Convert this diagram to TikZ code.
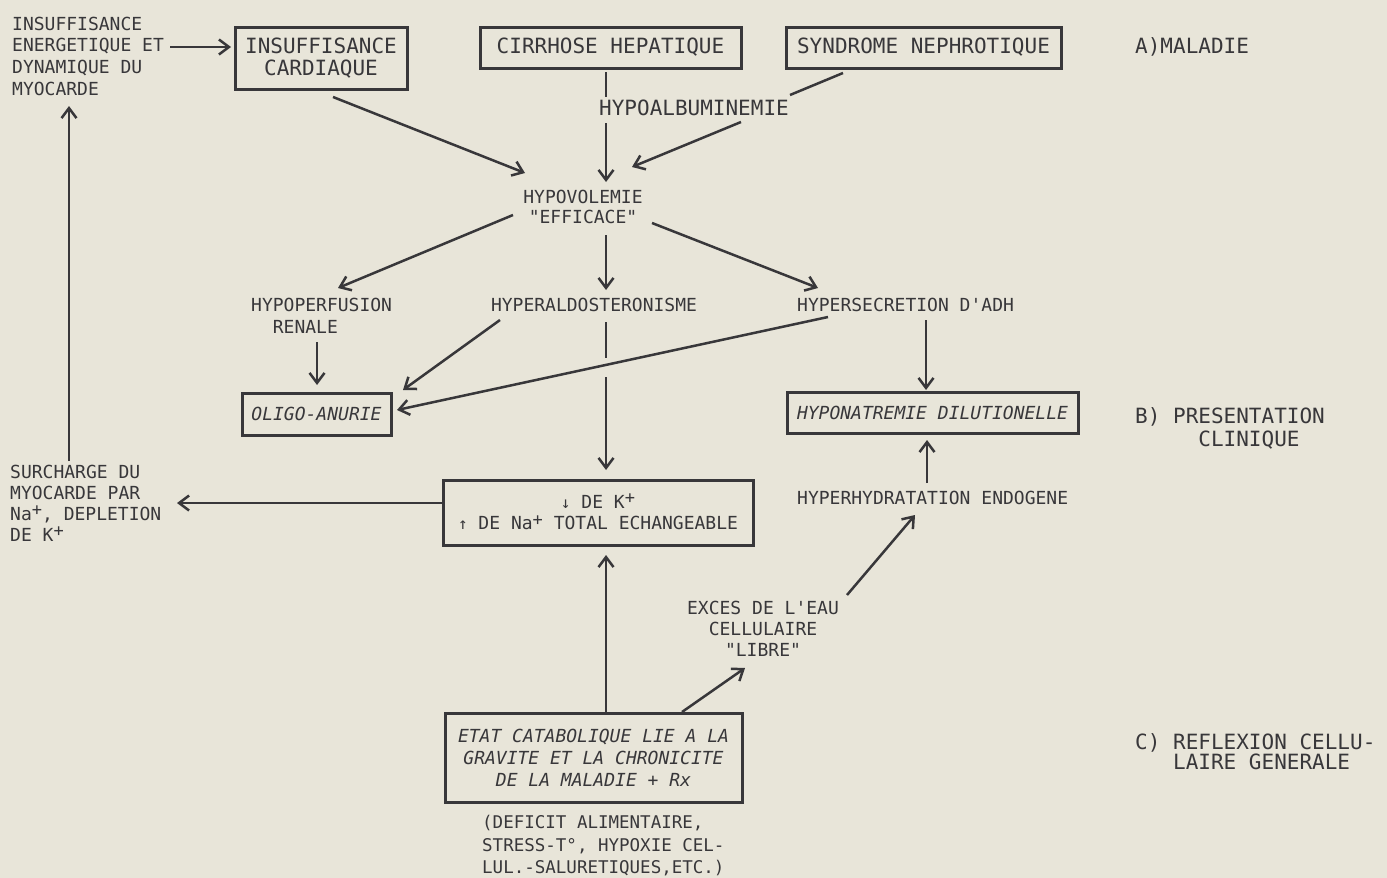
\documentclass[tikz,border=0pt]{standalone}
\usepackage{fontspec}
\newfontfamily\tw[Ligatures=TeXOff,ItalicFont={DejaVu Sans Mono Oblique}]{DejaVu Sans Mono}
\usetikzlibrary{arrows.meta}
\definecolor{ink}{HTML}{38373A}
\definecolor{paper}{HTML}{E8E5D9}
\newcommand\plusup{\smash{\raisebox{0.45ex}{\fontsize{17}{17}\selectfont+}}}
\newcommand\arrdn{{\fontsize{16}{16}\selectfont↓}}
\newcommand\arrup{{\fontsize{16}{16}\selectfont↑}}
\begin{document}
\begin{tikzpicture}[x=1pt,y=-1pt,
  nt/.style={font=\tw\fontsize{18}{21.5}\selectfont, text=ink, inner sep=0pt, align=center},
  wt/.style={font=\tw\fontsize{21}{22}\selectfont, text=ink, inner sep=0pt, align=center},
  itx/.style={font=\tw\itshape\fontsize{18}{22}\selectfont, text=ink, inner sep=0pt, align=center},
  bx/.style={draw=ink, line width=3pt, inner sep=0pt},
  arr/.style={draw=ink, line width=2.5pt, -{Straight Barb[length=10pt,width=15pt]}},
  ln/.style={draw=ink, line width=2.5pt}]
\fill[paper] (0,0) rectangle (1387,878);
\useasboundingbox (0,0) rectangle (1387,878);

% ---- nodes
\node[nt, anchor=west, align=left, font=\tw\fontsize{18}{21.7}\selectfont] (tl) at (12,56) {INSUFFISANCE\\ENERGETIQUE ET\\DYNAMIQUE DU\\MYOCARDE};
\node[bx, wt, minimum width=172pt, minimum height=62pt] (card) at (321,58) {INSUFFISANCE\\CARDIAQUE};
\node[bx, wt, minimum width=261pt, minimum height=41pt] (cirr) at (610.5,47.5) {CIRRHOSE HEPATIQUE};
\node[bx, wt, minimum width=275pt, minimum height=41pt] (synd) at (923.5,47.5) {SYNDROME NEPHROTIQUE};
\node[wt, anchor=west] (mal) at (1135,47) {A)MALADIE};
\node[wt] (halb) at (694,108) {HYPOALBUMINEMIE};
\node[nt, font=\tw\fontsize{18}{20.5}\selectfont] (hvol) at (583,207) {HYPOVOLEMIE\\"EFFICACE"};
\node[nt, anchor=west, align=left] (hperf) at (251,316) {HYPOPERFUSION\\\hspace*{21.7pt}RENALE};
\node[nt] (hald) at (594,305) {HYPERALDOSTERONISME};
\node[nt, anchor=west] (hsec) at (797,305) {HYPERSECRETION D'ADH};
\node[bx, itx, minimum width=149pt, minimum height=42pt] (olig) at (316.5,414) {OLIGO-ANURIE};
\node[bx, itx, minimum width=291pt, minimum height=41pt] (hnat) at (932.5,413) {HYPONATREMIE DILUTIONELLE};
\node[wt, anchor=west, align=left, font=\tw\fontsize{21}{23}\selectfont] (pres) at (1135,428.5) {B) PRESENTATION\\\phantom{B) PR}CLINIQUE};
\node[bx, nt, minimum width=310pt, minimum height=65pt] (nab) at (598,512.5) {\arrdn{} DE K\plusup\\\arrup{} DE Na\plusup{} TOTAL ECHANGEABLE};
\node[nt, anchor=west, align=left, font=\tw\fontsize{18}{20.9}\selectfont] (surc) at (10,503) {SURCHARGE DU\\MYOCARDE PAR\\Na\plusup, DEPLETION\\DE K\plusup};
\node[nt, anchor=west] (hhyd) at (797,498) {HYPERHYDRATATION ENDOGENE};
\node[nt, font=\tw\fontsize{18}{21}\selectfont] (exc) at (763,629) {EXCES DE L'EAU\\CELLULAIRE\\"LIBRE"};
\node[bx, itx, minimum width=297pt, minimum height=89pt] (etat) at (593.5,757.5) {ETAT CATABOLIQUE LIE A LA\\GRAVITE ET LA CHRONICITE\\DE LA MALADIE + Rx};
\node[nt, anchor=west, align=left, font=\tw\fontsize{17.5}{22.5}\selectfont] (defi) at (482,846) {(DEFICIT ALIMENTAIRE,\\STRESS-T°, HYPOXIE CEL-\\LUL.-SALURETIQUES,ETC.)};
\node[wt, anchor=west, align=left, font=\tw\fontsize{21}{20.5}\selectfont] (refl) at (1135,753) {C) REFLEXION CELLU-\\\phantom{C) }LAIRE GENERALE};

% ---- connector end points
\coordinate (tlE) at (170,47);   \coordinate (cardW) at (231,47);
\coordinate (cardS) at (333,97); \coordinate (hvolNW) at (525,173);
\coordinate (cirrS) at (606,72); \coordinate (halbN) at (606,97);
\coordinate (halbS) at (606,123);\coordinate (hvolN) at (606,182);
\coordinate (syndS) at (843,73); \coordinate (halbE) at (790,95);
\coordinate (halbSE) at (741,122); \coordinate (hvolNE) at (632,167);
\coordinate (hvolSW) at (513,215); \coordinate (hperfN) at (338,288);
\coordinate (hvolS) at (606,235); \coordinate (haldN) at (606,290);
\coordinate (hvolSE) at (652,223); \coordinate (hsecNW) at (818,288);
\coordinate (hperfS) at (317,342); \coordinate (oligN) at (317,385);
\coordinate (haldSW) at (500,320); \coordinate (oligNE) at (403,390);
\coordinate (hsecSW) at (828,317); \coordinate (oligE) at (397,410);
\coordinate (haldS) at (606,322); \coordinate (gapA) at (606,358);
\coordinate (gapB) at (606,377); \coordinate (nabN) at (606,470);
\coordinate (hsecS) at (926,320); \coordinate (hnatN) at (926,390);
\coordinate (nabW) at (442,503); \coordinate (surcE) at (177,503);
\coordinate (surcN) at (69,461); \coordinate (tlS) at (69,106);
\coordinate (hhydN) at (927,483); \coordinate (hnatS) at (927,440);
\coordinate (etatN) at (606,713); \coordinate (nabS) at (606,555);
\coordinate (etatNE) at (682,712); \coordinate (excS) at (745,668);
\coordinate (excNE) at (847,595); \coordinate (hhydS) at (915,515);

% ---- connectors
\draw[arr] (tlE) -- (cardW);
\draw[arr] (cardS) -- (hvolNW);
\draw[ln] (cirrS) -- (halbN);
\draw[arr] (halbS) -- (hvolN);
\draw[ln] (syndS) -- (halbE);
\draw[arr] (halbSE) -- (hvolNE);
\draw[arr] (hvolSW) -- (hperfN);
\draw[arr] (hvolS) -- (haldN);
\draw[arr] (hvolSE) -- (hsecNW);
\draw[arr] (hperfS) -- (oligN);
\draw[arr] (haldSW) -- (oligNE);
\draw[arr] (hsecSW) -- (oligE);
\draw[ln] (haldS) -- (gapA);
\draw[arr] (gapB) -- (nabN);
\draw[arr] (hsecS) -- (hnatN);
\draw[arr] (nabW) -- (surcE);
\draw[arr] (surcN) -- (tlS);
\draw[arr] (hhydN) -- (hnatS);
\draw[arr] (etatN) -- (nabS);
\draw[arr] (etatNE) -- (excS);
\draw[arr] (excNE) -- (hhydS);
\end{tikzpicture}
\end{document}
